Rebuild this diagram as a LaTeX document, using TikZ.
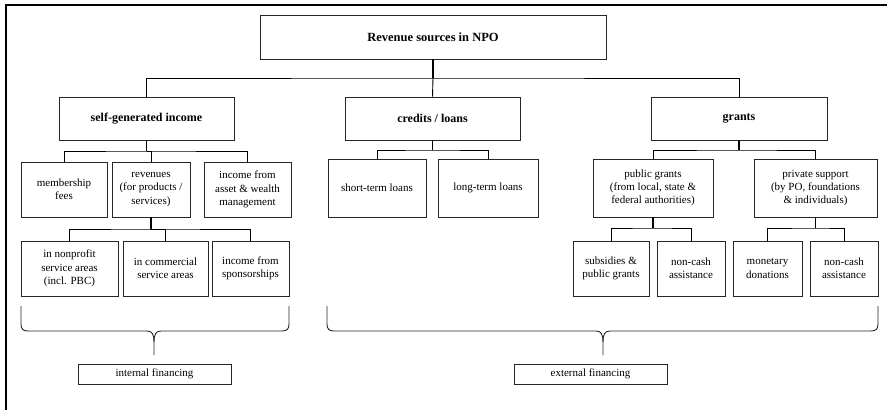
\documentclass[tikz,border=0pt]{standalone}
\usepackage{fontspec}
\setmainfont{Liberation Serif}
\usetikzlibrary{calc}
\begin{document}
\begin{tikzpicture}[x=1pt,y=-1pt,
  box/.style={draw=black!85,line width=0.9pt,inner sep=0pt,align=center,
    font=\fontsize{11}{13.3}\selectfont},
  hbox/.style={box,font=\fontsize{12}{14}\selectfont\bfseries},
  stem/.style={line width=1.8pt},
  link/.style={line width=0.9pt},
  brace/.style={line width=0.9pt,black!85}]
\useasboundingbox (0,0) rectangle (887,410);
\draw[line width=1.2pt] (6,410) -- (6,5) -- (887,5);
% nodes
\node[hbox,minimum width=346pt,minimum height=44pt,font=\fontsize{12.5}{14}\selectfont\bfseries] (root) at (433,37) {Revenue sources in NPO};
\node[hbox,minimum width=175pt,minimum height=43pt] (self) at (146.5,118.5) {self-generated income};
\node[hbox,minimum width=175pt,minimum height=43pt] (cred) at (432.5,118.5) {credits / loans};
\node[hbox,minimum width=176pt,minimum height=43pt] (grants) at (739,118.5) {grants};
\node[box,minimum width=86pt,minimum height=55pt] (mem) at (64,189.5) {membership\\fees};
\node[box,minimum width=78pt,minimum height=55pt] (rev) at (151,189.5) {revenues\\(for products /\\services)};
\node[box,minimum width=87pt,minimum height=55pt] (asset) at (247.5,189.5) {income from\\asset \& wealth\\management};
\node[box,minimum width=97pt,minimum height=55pt] (nonp) at (69.5,268.5) {in nonprofit\\service areas\\(incl. PBC)};
\node[box,minimum width=85pt,minimum height=55pt] (comm) at (165.5,268.5) {in commercial\\service areas};
\node[box,minimum width=77pt,minimum height=55pt] (spon) at (250.5,268.5) {income from\\sponsorships};
\node[box,minimum width=98pt,minimum height=58pt] (short) at (377,188) {short-term loans};
\node[box,minimum width=100pt,minimum height=58pt] (long) at (488,188) {long-term loans};
\node[box,minimum width=120pt,minimum height=58pt] (pub) at (653,188) {public grants\\(from local, state \&\\federal authorities)};
\node[box,minimum width=123pt,minimum height=58pt] (priv) at (815.5,188) {private support\\(by PO, foundations\\\& individuals)};
\node[box,minimum width=76pt,minimum height=55pt] (subs) at (611,268.5) {subsidies \&\\public grants};
\node[box,minimum width=68pt,minimum height=55pt] (nc1) at (691,268.5) {non-cash\\assistance};
\node[box,minimum width=69pt,minimum height=55pt] (mon) at (767.5,268.5) {monetary\\donations};
\node[box,minimum width=68pt,minimum height=55pt] (nc2) at (844,268.5) {non-cash\\assistance};
\node[box,minimum width=153pt,minimum height=20pt] (intf) at (154.5,374) {internal financing};
\node[box,minimum width=153pt,minimum height=20pt] (extf) at (590.5,374) {external financing};
% connectors
\coordinate (j0) at (433,78);
\draw[stem] (root.south) -- (j0);
\draw[link] (self.north) |- (j0) -| (grants.north);
\draw[link] (j0) -- (cred.north);
\coordinate (j1) at (146.5,151);
\draw[stem] (self.south) -- (j1);
\draw[link] (mem.north) |- (j1) -| (asset.north);
\draw[link] (rev.north) |- (j1);
\coordinate (j2) at (151,229);
\draw[stem] (rev.south) -- (j2);
\draw[link] (nonp.north) |- (j2) -| (spon.north);
\draw[link] (comm.north) |- (j2);
\coordinate (j3) at (432.5,150);
\draw[stem] (cred.south) -- (j3);
\draw[link] (short.north) |- (j3) -| (long.north);
\coordinate (j4) at (739,150);
\draw[stem] (grants.south) -- (j4);
\draw[link] (pub.north) |- (j4) -| (priv.north);
\coordinate (j5) at (653,228);
\draw[stem] (pub.south) -- (j5);
\draw[link] (subs.north) |- (j5) -| (nc1.north);
\coordinate (j6) at (815.5,228);
\draw[stem] (priv.south) -- (j6);
\draw[link] (mon.north) |- (j6) -| (nc2.north);
% braces
\draw[brace] (21,306) -- (21,324) .. controls (21,329) and (23,331) .. (28,331) -- (147,331)
  .. controls (152,331) and (154,334) .. (154,342) -- (154,355);
\draw[brace] (154,342) .. controls (154,334) and (156,331) .. (161,331) -- (282,331)
  .. controls (287,331) and (289,329) .. (289,324) -- (289,306);
\draw[brace] (327,306) -- (327,324) .. controls (327,329) and (329,331) .. (334,331) -- (596,331)
  .. controls (601,331) and (603,334) .. (603,342) -- (603,355);
\draw[brace] (603,342) .. controls (603,334) and (605,331) .. (610,331) -- (871,331)
  .. controls (876,331) and (878,329) .. (878,324) -- (878,306);
\end{tikzpicture}
\end{document}
